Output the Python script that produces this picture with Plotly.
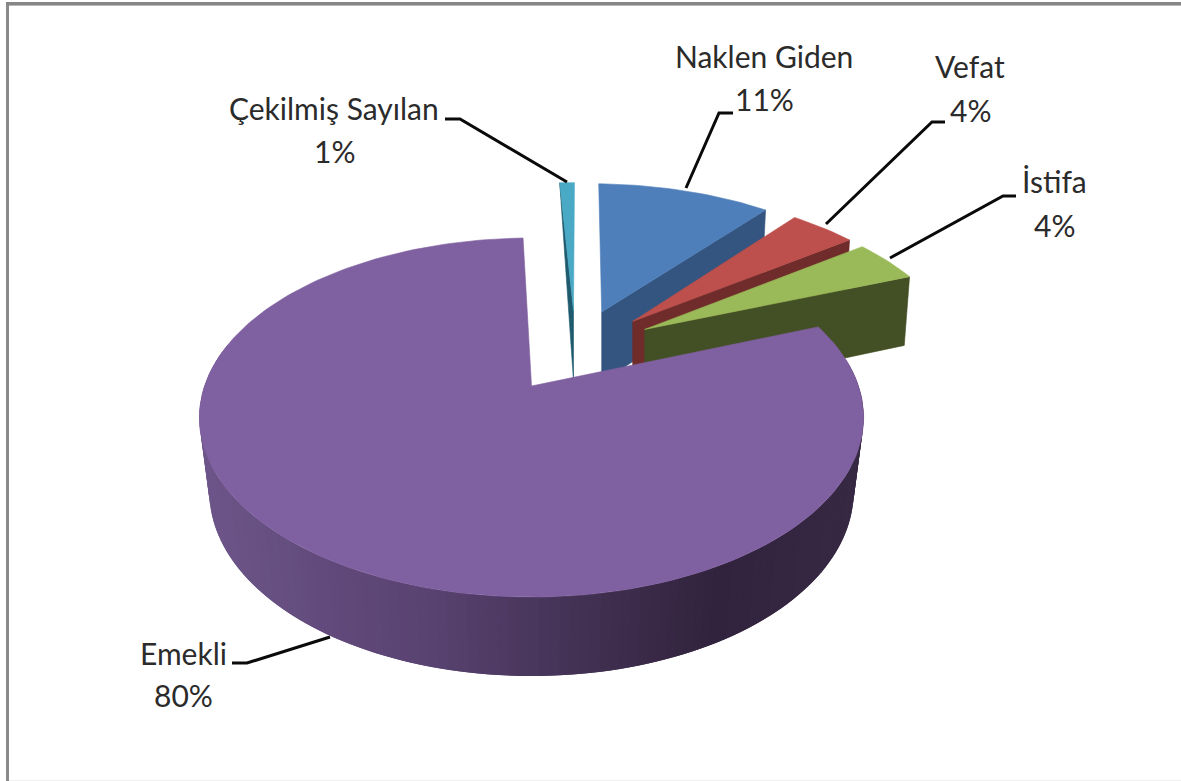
import math
import plotly.graph_objects as go

# ---- data ----
categories = ["Naklen Giden", "Vefat", "İstifa", "Emekli", "Çekilmiş Sayılan"]
values = [10.6, 4.0, 4.1, 80.4, 0.9]
display_pct = [11, 4, 4, 80, 1]

# ---- style ----
top_colors = ["#4f7fbb", "#bd4f4c", "#9aba59", "#7f60a0", "#4aa9c4"]
wall_colors = ["#34557f", "#6f2c2a", "#434f24", "#4a3658", "#1f5a6e"]
explode = [(0.232, 0.46), (0.331, 0.397), (0.367, 0.345), (0.0, 0.0), (0.139, 0.47)]
label_pos = [(764, 56, 99), (970, 66, 110), (1054, 181, 225), (183, 653, 695), (334, 108, 151)]
leaders = [
    [(686, 188), (719, 113), (733, 113)],
    [(826, 224), (932, 122), (945, 122)],
    [(890, 258), (1003, 196), (1016, 196)],
    [(330, 637), (247, 663), (232, 663)],
    [(567, 182), (460, 119), (445, 119)],
]
X0, Y0, A, B, K = 531.5, 386, 327, 174, 0.1755
ROT = 1.5
TEXT = "#2b2b2b"
FONT = "Lato"
FS = 30


def top(u, v):
    w = 1 + K * v
    return X0 + A * u / w, Y0 - B * v / w


def bottom(u, v, ax, shrink=0.97):
    x, y = top(u, v)
    return ax + (x - ax) * shrink, y + 73 - 6 * v


def plane(ang, ex):
    t = math.radians(ang)
    return ex[0] + math.sin(t), ex[1] + math.cos(t)


def mix(c1, c2, f):
    a = [int(c1[i:i + 2], 16) for i in (1, 3, 5)]
    b = [int(c2[i:i + 2], 16) for i in (1, 3, 5)]
    return "rgb(%d,%d,%d)" % tuple(round(p + (q - p) * f) for p, q in zip(a, b))


def poly(pts, color, lw=0.6):
    return go.Scatter(
        x=[p[0] for p in pts] + [pts[0][0]],
        y=[p[1] for p in pts] + [pts[0][1]],
        mode="lines", fill="toself", fillcolor=color,
        line=dict(color=color, width=lw), hoverinfo="skip", showlegend=False,
    )


# cumulative angles from the values
spans = []
a0 = ROT
for val in values:
    a1 = a0 + val * 3.6
    spans.append((a0, a1))
    a0 = a1

fig = go.Figure()
order = [0, 1, 2, 4, 3]
for i in order:
    s, e = spans[i]
    ex = explode[i]
    ax_x, ax_y = top(*ex)
    n = max(4, int((e - s) / 1.5))
    angs = [s + (e - s) * j / n for j in range(n + 1)]
    if categories[i] == "Emekli":
        # outer curved wall with horizontal gradient, painted so each band
        # overlaps the next one and no seams show
        stops = [(0.0, "#6d5589"), (0.35, "#584270"), (0.62, "#3f2e4e"), (0.78, "#31223d"), (1.0, "#372843")]
        seg = [a for a in angs if 80 <= a <= 285]
        xs = 199.0
        for j in range(len(seg) - 1):
            a = seg[j]
            b = seg[min(j + 2, len(seg) - 1)]
            ua, va = plane(a, ex)
            ub, vb = plane(b, ex)
            xm = top(*plane((seg[j] + seg[j + 1]) / 2, ex))[0]
            f = max(0.0, min(1.0, (xm - xs) / 664))
            for (p, c1), (q, c2) in zip(stops, stops[1:]):
                if p <= f <= q:
                    col = mix(c1, c2, (f - p) / (q - p))
                    break
            fig.add_trace(poly([top(ua, va), top(ub, vb), bottom(ub, vb, X0), bottom(ua, va, X0)], col, lw=0))
    else:
        # radial cut wall
        cut = s if categories[i] == "Çekilmiş Sayılan" else e
        uo, vo = plane(cut, ex)
        pts = [top(*ex), top(uo, vo)]
        if categories[i] != "Çekilmiş Sayılan":
            pts.append(bottom(uo, vo, ax_x, 0.98))
        pts.append((ax_x, bottom(*ex, ax_x)[1]))
        fig.add_trace(poly(pts, wall_colors[i]))
    face = [(ax_x, ax_y)] + [top(*plane(a, ex)) for a in angs]
    fig.add_trace(poly(face, top_colors[i]))

for pts in leaders:
    fig.add_trace(go.Scatter(x=[p[0] for p in pts], y=[p[1] for p in pts], mode="lines",
                             line=dict(color="#0a0a0a", width=3), hoverinfo="skip", showlegend=False))

annotations = []
for name, pct, (x, y1, y2) in zip(categories, display_pct, label_pos):
    for txt, y in ((name, y1), (f"{pct}%", y2)):
        annotations.append(dict(x=x, y=y, text=txt, showarrow=False, xref="x", yref="y",
                                xanchor="center", yanchor="middle",
                                font=dict(family=FONT, size=FS, color=TEXT)))

frame = [
    dict(type="rect", x0=6, x1=9, y0=3, y1=781, fillcolor="#8a8a8a", line_width=0, layer="below"),
    dict(type="rect", x0=6, x1=1181, y0=2, y1=5, fillcolor="#868686", line_width=0, layer="below"),
    dict(type="rect", x0=9, x1=1181, y0=5, y1=6, fillcolor="#b8b8b8", line_width=0, layer="below"),
    dict(type="rect", x0=9, x1=1181, y0=780, y1=781, fillcolor="#f0f0f0", line_width=0, layer="below"),
]

fig.update_layout(
    width=1181, height=781, margin=dict(l=0, r=0, t=0, b=0),
    paper_bgcolor="white", plot_bgcolor="white",
    xaxis=dict(range=[0, 1181], visible=False, fixedrange=True),
    yaxis=dict(range=[781, 0], visible=False, fixedrange=True),
    annotations=annotations, shapes=frame, showlegend=False,
)
fig.write_html("out.html", config={"displayModeBar": False},
               post_script="document.body.style.margin='0';document.body.style.overflow='hidden';")
